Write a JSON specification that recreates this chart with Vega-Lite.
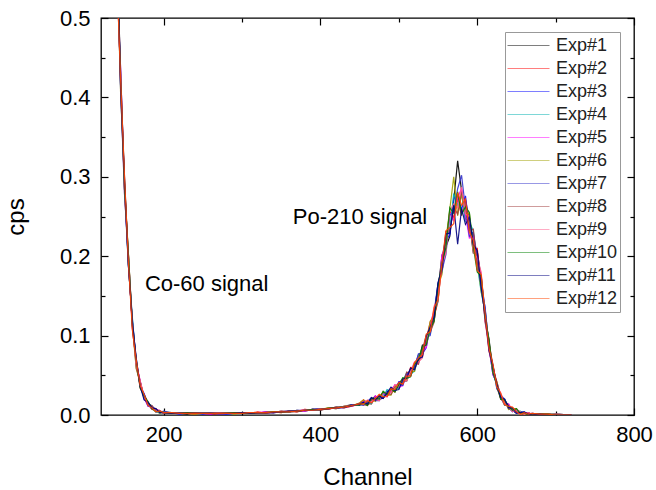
{
"$schema": "https://vega.github.io/schema/vega-lite/v6.json",
"width": 533, "height": 397,
"autosize": {"type": "none"},
"padding": {"left": 101, "top": 18, "right": 22, "bottom": 75},
"config": {"font": "Liberation Sans", "view": {"stroke": "black", "strokeWidth": 1.3},
  "axis": {"grid": false, "domain": false, "tickColor": "black", "tickWidth": 1.2, "labelColor": "black", "labelFontSize": 22, "titleFontSize": 24, "titleFontWeight": "normal", "titleColor": "black", "labelFlush": false}},
"datasets": {"spec": [
{"s":1,"c":130,"y":1.229},{"s":1,"c":135,"y":0.823},{"s":1,"c":140,"y":0.585},{"s":1,"c":145,"y":0.435},{"s":1,"c":150,"y":0.285},{"s":1,"c":155,"y":0.187},{"s":1,"c":160,"y":0.119},{"s":1,"c":165,"y":0.064},{"s":1,"c":170,"y":0.042},{"s":1,"c":175,"y":0.021},{"s":1,"c":180,"y":0.014},{"s":1,"c":185,"y":0.007},{"s":1,"c":190,"y":0.007},{"s":1,"c":195,"y":0.005},{"s":1,"c":200,"y":0.002},
{"s":1,"c":210,"y":0.003},{"s":1,"c":220,"y":0.002},{"s":1,"c":230,"y":0.001},{"s":1,"c":240,"y":0.003},{"s":1,"c":250,"y":0.002},{"s":1,"c":260,"y":0.001},{"s":1,"c":270,"y":0.002},{"s":1,"c":280,"y":0.003},{"s":1,"c":290,"y":0.002},{"s":1,"c":300,"y":0.002},{"s":1,"c":310,"y":0.003},{"s":1,"c":320,"y":0.002},{"s":1,"c":330,"y":0.004},{"s":1,"c":340,"y":0.003},{"s":1,"c":350,"y":0.005},{"s":1,"c":360,"y":0.004},{"s":1,"c":370,"y":0.006},{"s":1,"c":380,"y":0.005},{"s":1,"c":390,"y":0.007},{"s":1,"c":400,"y":0.006},{"s":1,"c":410,"y":0.009},{"s":1,"c":420,"y":0.008},{"s":1,"c":430,"y":0.011},{"s":1,"c":440,"y":0.013},{"s":1,"c":450,"y":0.012},
{"s":1,"c":455,"y":0.017},{"s":1,"c":460,"y":0.013},{"s":1,"c":465,"y":0.019},{"s":1,"c":470,"y":0.024},{"s":1,"c":475,"y":0.02},{"s":1,"c":480,"y":0.021},{"s":1,"c":485,"y":0.029},{"s":1,"c":490,"y":0.029},{"s":1,"c":495,"y":0.037},{"s":1,"c":500,"y":0.034},{"s":1,"c":505,"y":0.043},{"s":1,"c":510,"y":0.043},{"s":1,"c":515,"y":0.058},{"s":1,"c":520,"y":0.063},{"s":1,"c":525,"y":0.067},{"s":1,"c":530,"y":0.088},{"s":1,"c":535,"y":0.09},{"s":1,"c":540,"y":0.114},{"s":1,"c":545,"y":0.119},{"s":1,"c":550,"y":0.157},{"s":1,"c":555,"y":0.201},{"s":1,"c":560,"y":0.212},{"s":1,"c":565,"y":0.225},{"s":1,"c":570,"y":0.27},{"s":1,"c":575,"y":0.32},{"s":1,"c":580,"y":0.283},{"s":1,"c":585,"y":0.247},{"s":1,"c":590,"y":0.242},{"s":1,"c":595,"y":0.204},{"s":1,"c":600,"y":0.206},{"s":1,"c":605,"y":0.172},{"s":1,"c":610,"y":0.12},{"s":1,"c":615,"y":0.096},{"s":1,"c":620,"y":0.055},{"s":1,"c":625,"y":0.04},{"s":1,"c":630,"y":0.02},{"s":1,"c":635,"y":0.017},{"s":1,"c":640,"y":0.013},{"s":1,"c":645,"y":0.006},{"s":1,"c":650,"y":0.002},{"s":1,"c":655,"y":0.004},{"s":1,"c":660,"y":0.002},{"s":1,"c":665,"y":0.003},{"s":1,"c":670,"y":0},{"s":1,"c":680,"y":0.001},{"s":1,"c":690,"y":0},{"s":1,"c":700,"y":0.001},{"s":1,"c":720,"y":0},
{"s":2,"c":130,"y":1.243},{"s":2,"c":135,"y":0.836},{"s":2,"c":140,"y":0.557},{"s":2,"c":145,"y":0.429},{"s":2,"c":150,"y":0.288},{"s":2,"c":155,"y":0.201},{"s":2,"c":160,"y":0.11},{"s":2,"c":165,"y":0.066},{"s":2,"c":170,"y":0.034},{"s":2,"c":175,"y":0.026},{"s":2,"c":180,"y":0.015},{"s":2,"c":185,"y":0.008},{"s":2,"c":190,"y":0.008},{"s":2,"c":195,"y":0.003},{"s":2,"c":200,"y":0.004},
{"s":2,"c":210,"y":0.002},{"s":2,"c":220,"y":0.003},{"s":2,"c":230,"y":0.002},{"s":2,"c":240,"y":0.001},{"s":2,"c":250,"y":0.003},{"s":2,"c":260,"y":0.002},{"s":2,"c":270,"y":0.001},{"s":2,"c":280,"y":0.002},{"s":2,"c":290,"y":0.003},{"s":2,"c":300,"y":0.003},{"s":2,"c":310,"y":0.002},{"s":2,"c":320,"y":0.004},{"s":2,"c":330,"y":0.002},{"s":2,"c":340,"y":0.004},{"s":2,"c":350,"y":0.003},{"s":2,"c":360,"y":0.005},{"s":2,"c":370,"y":0.004},{"s":2,"c":380,"y":0.007},{"s":2,"c":390,"y":0.006},{"s":2,"c":400,"y":0.008},{"s":2,"c":410,"y":0.007},{"s":2,"c":420,"y":0.01},{"s":2,"c":430,"y":0.009},{"s":2,"c":440,"y":0.011},{"s":2,"c":450,"y":0.015},
{"s":2,"c":455,"y":0.019},{"s":2,"c":460,"y":0.014},{"s":2,"c":465,"y":0.014},{"s":2,"c":470,"y":0.022},{"s":2,"c":475,"y":0.021},{"s":2,"c":480,"y":0.029},{"s":2,"c":485,"y":0.024},{"s":2,"c":490,"y":0.031},{"s":2,"c":495,"y":0.029},{"s":2,"c":500,"y":0.041},{"s":2,"c":505,"y":0.044},{"s":2,"c":510,"y":0.045},{"s":2,"c":515,"y":0.06},{"s":2,"c":520,"y":0.059},{"s":2,"c":525,"y":0.074},{"s":2,"c":530,"y":0.074},{"s":2,"c":535,"y":0.095},{"s":2,"c":540,"y":0.117},{"s":2,"c":545,"y":0.124},{"s":2,"c":550,"y":0.143},{"s":2,"c":555,"y":0.195},{"s":2,"c":560,"y":0.215},{"s":2,"c":565,"y":0.257},{"s":2,"c":570,"y":0.249},{"s":2,"c":575,"y":0.272},{"s":2,"c":580,"y":0.251},{"s":2,"c":585,"y":0.271},{"s":2,"c":590,"y":0.245},{"s":2,"c":595,"y":0.21},{"s":2,"c":600,"y":0.21},{"s":2,"c":605,"y":0.164},{"s":2,"c":610,"y":0.131},{"s":2,"c":615,"y":0.082},{"s":2,"c":620,"y":0.058},{"s":2,"c":625,"y":0.042},{"s":2,"c":630,"y":0.022},{"s":2,"c":635,"y":0.012},{"s":2,"c":640,"y":0.012},{"s":2,"c":645,"y":0.006},{"s":2,"c":650,"y":0.007},{"s":2,"c":655,"y":0.002},{"s":2,"c":660,"y":0.002},{"s":2,"c":665,"y":0},{"s":2,"c":670,"y":0.002},{"s":2,"c":680,"y":0.001},{"s":2,"c":690,"y":0.001},{"s":2,"c":700,"y":0},{"s":2,"c":720,"y":0},
{"s":3,"c":130,"y":1.224},{"s":3,"c":135,"y":0.843},{"s":3,"c":140,"y":0.598},{"s":3,"c":145,"y":0.41},{"s":3,"c":150,"y":0.291},{"s":3,"c":155,"y":0.188},{"s":3,"c":160,"y":0.121},{"s":3,"c":165,"y":0.067},{"s":3,"c":170,"y":0.036},{"s":3,"c":175,"y":0.027},{"s":3,"c":180,"y":0.013},{"s":3,"c":185,"y":0.011},{"s":3,"c":190,"y":0.004},{"s":3,"c":195,"y":0.004},{"s":3,"c":200,"y":0.004},
{"s":3,"c":210,"y":0.003},{"s":3,"c":220,"y":0.001},{"s":3,"c":230,"y":0.003},{"s":3,"c":240,"y":0.002},{"s":3,"c":250,"y":0.001},{"s":3,"c":260,"y":0.003},{"s":3,"c":270,"y":0.002},{"s":3,"c":280,"y":0.001},{"s":3,"c":290,"y":0.002},{"s":3,"c":300,"y":0.003},{"s":3,"c":310,"y":0.002},{"s":3,"c":320,"y":0.003},{"s":3,"c":330,"y":0.003},{"s":3,"c":340,"y":0.004},{"s":3,"c":350,"y":0.004},{"s":3,"c":360,"y":0.004},{"s":3,"c":370,"y":0.005},{"s":3,"c":380,"y":0.006},{"s":3,"c":390,"y":0.007},{"s":3,"c":400,"y":0.008},{"s":3,"c":410,"y":0.008},{"s":3,"c":420,"y":0.009},{"s":3,"c":430,"y":0.01},{"s":3,"c":440,"y":0.012},{"s":3,"c":450,"y":0.014},
{"s":3,"c":455,"y":0.017},{"s":3,"c":460,"y":0.015},{"s":3,"c":465,"y":0.021},{"s":3,"c":470,"y":0.018},{"s":3,"c":475,"y":0.022},{"s":3,"c":480,"y":0.021},{"s":3,"c":485,"y":0.03},{"s":3,"c":490,"y":0.032},{"s":3,"c":495,"y":0.031},{"s":3,"c":500,"y":0.042},{"s":3,"c":505,"y":0.04},{"s":3,"c":510,"y":0.052},{"s":3,"c":515,"y":0.049},{"s":3,"c":520,"y":0.062},{"s":3,"c":525,"y":0.076},{"s":3,"c":530,"y":0.077},{"s":3,"c":535,"y":0.085},{"s":3,"c":540,"y":0.113},{"s":3,"c":545,"y":0.126},{"s":3,"c":550,"y":0.165},{"s":3,"c":555,"y":0.18},{"s":3,"c":560,"y":0.22},{"s":3,"c":565,"y":0.227},{"s":3,"c":570,"y":0.273},{"s":3,"c":575,"y":0.276},{"s":3,"c":580,"y":0.259},{"s":3,"c":585,"y":0.276},{"s":3,"c":590,"y":0.235},{"s":3,"c":595,"y":0.228},{"s":3,"c":600,"y":0.183},{"s":3,"c":605,"y":0.171},{"s":3,"c":610,"y":0.134},{"s":3,"c":615,"y":0.085},{"s":3,"c":620,"y":0.051},{"s":3,"c":625,"y":0.04},{"s":3,"c":630,"y":0.023},{"s":3,"c":635,"y":0.019},{"s":3,"c":640,"y":0.008},{"s":3,"c":645,"y":0.007},{"s":3,"c":650,"y":0.002},{"s":3,"c":655,"y":0.004},{"s":3,"c":660,"y":0.003},{"s":3,"c":665,"y":0.001},{"s":3,"c":670,"y":0.002},{"s":3,"c":680,"y":0.001},{"s":3,"c":690,"y":0.001},{"s":3,"c":700,"y":0.001},{"s":3,"c":720,"y":0},
{"s":4,"c":130,"y":1.171},{"s":4,"c":135,"y":0.853},{"s":4,"c":140,"y":0.559},{"s":4,"c":145,"y":0.432},{"s":4,"c":150,"y":0.294},{"s":4,"c":155,"y":0.191},{"s":4,"c":160,"y":0.123},{"s":4,"c":165,"y":0.063},{"s":4,"c":170,"y":0.041},{"s":4,"c":175,"y":0.02},{"s":4,"c":180,"y":0.015},{"s":4,"c":185,"y":0.011},{"s":4,"c":190,"y":0.005},{"s":4,"c":195,"y":0.002},{"s":4,"c":200,"y":0.004},
{"s":4,"c":210,"y":0.002},{"s":4,"c":220,"y":0.002},{"s":4,"c":230,"y":0.002},{"s":4,"c":240,"y":0.002},{"s":4,"c":250,"y":0.003},{"s":4,"c":260,"y":0.002},{"s":4,"c":270,"y":0.002},{"s":4,"c":280,"y":0.002},{"s":4,"c":290,"y":0.002},{"s":4,"c":300,"y":0.002},{"s":4,"c":310,"y":0.003},{"s":4,"c":320,"y":0.003},{"s":4,"c":330,"y":0.003},{"s":4,"c":340,"y":0.003},{"s":4,"c":350,"y":0.004},{"s":4,"c":360,"y":0.005},{"s":4,"c":370,"y":0.005},{"s":4,"c":380,"y":0.006},{"s":4,"c":390,"y":0.006},{"s":4,"c":400,"y":0.007},{"s":4,"c":410,"y":0.008},{"s":4,"c":420,"y":0.009},{"s":4,"c":430,"y":0.01},{"s":4,"c":440,"y":0.012},{"s":4,"c":450,"y":0.013},
{"s":4,"c":455,"y":0.013},{"s":4,"c":460,"y":0.016},{"s":4,"c":465,"y":0.014},{"s":4,"c":470,"y":0.023},{"s":4,"c":475,"y":0.023},{"s":4,"c":480,"y":0.023},{"s":4,"c":485,"y":0.032},{"s":4,"c":490,"y":0.029},{"s":4,"c":495,"y":0.036},{"s":4,"c":500,"y":0.033},{"s":4,"c":505,"y":0.043},{"s":4,"c":510,"y":0.053},{"s":4,"c":515,"y":0.052},{"s":4,"c":520,"y":0.055},{"s":4,"c":525,"y":0.074},{"s":4,"c":530,"y":0.078},{"s":4,"c":535,"y":0.1},{"s":4,"c":540,"y":0.102},{"s":4,"c":545,"y":0.129},{"s":4,"c":550,"y":0.144},{"s":4,"c":555,"y":0.198},{"s":4,"c":560,"y":0.223},{"s":4,"c":565,"y":0.234},{"s":4,"c":570,"y":0.279},{"s":4,"c":575,"y":0.264},{"s":4,"c":580,"y":0.279},{"s":4,"c":585,"y":0.244},{"s":4,"c":590,"y":0.243},{"s":4,"c":595,"y":0.232},{"s":4,"c":600,"y":0.189},{"s":4,"c":605,"y":0.155},{"s":4,"c":610,"y":0.13},{"s":4,"c":615,"y":0.086},{"s":4,"c":620,"y":0.062},{"s":4,"c":625,"y":0.034},{"s":4,"c":630,"y":0.024},{"s":4,"c":635,"y":0.012},{"s":4,"c":640,"y":0.012},{"s":4,"c":645,"y":0.008},{"s":4,"c":650,"y":0.004},{"s":4,"c":655,"y":0.005},{"s":4,"c":660,"y":0.001},{"s":4,"c":665,"y":0.002},{"s":4,"c":670,"y":0},{"s":4,"c":680,"y":0.001},{"s":4,"c":690,"y":0},{"s":4,"c":700,"y":0},{"s":4,"c":720,"y":0},
{"s":5,"c":130,"y":1.234},{"s":5,"c":135,"y":0.86},{"s":5,"c":140,"y":0.569},{"s":5,"c":145,"y":0.437},{"s":5,"c":150,"y":0.286},{"s":5,"c":155,"y":0.2},{"s":5,"c":160,"y":0.109},{"s":5,"c":165,"y":0.066},{"s":5,"c":170,"y":0.043},{"s":5,"c":175,"y":0.021},{"s":5,"c":180,"y":0.011},{"s":5,"c":185,"y":0.01},{"s":5,"c":190,"y":0.006},{"s":5,"c":195,"y":0.006},{"s":5,"c":200,"y":0.002},
{"s":5,"c":210,"y":0.002},{"s":5,"c":220,"y":0.002},{"s":5,"c":230,"y":0.003},{"s":5,"c":240,"y":0.002},{"s":5,"c":250,"y":0.002},{"s":5,"c":260,"y":0.001},{"s":5,"c":270,"y":0.003},{"s":5,"c":280,"y":0.002},{"s":5,"c":290,"y":0.002},{"s":5,"c":300,"y":0.002},{"s":5,"c":310,"y":0.002},{"s":5,"c":320,"y":0.003},{"s":5,"c":330,"y":0.004},{"s":5,"c":340,"y":0.003},{"s":5,"c":350,"y":0.004},{"s":5,"c":360,"y":0.005},{"s":5,"c":370,"y":0.005},{"s":5,"c":380,"y":0.005},{"s":5,"c":390,"y":0.007},{"s":5,"c":400,"y":0.007},{"s":5,"c":410,"y":0.008},{"s":5,"c":420,"y":0.01},{"s":5,"c":430,"y":0.01},{"s":5,"c":440,"y":0.011},{"s":5,"c":450,"y":0.014},
{"s":5,"c":455,"y":0.018},{"s":5,"c":460,"y":0.017},{"s":5,"c":465,"y":0.016},{"s":5,"c":470,"y":0.024},{"s":5,"c":475,"y":0.021},{"s":5,"c":480,"y":0.028},{"s":5,"c":485,"y":0.023},{"s":5,"c":490,"y":0.031},{"s":5,"c":495,"y":0.038},{"s":5,"c":500,"y":0.035},{"s":5,"c":505,"y":0.037},{"s":5,"c":510,"y":0.051},{"s":5,"c":515,"y":0.053},{"s":5,"c":520,"y":0.066},{"s":5,"c":525,"y":0.066},{"s":5,"c":530,"y":0.081},{"s":5,"c":535,"y":0.085},{"s":5,"c":540,"y":0.115},{"s":5,"c":545,"y":0.131},{"s":5,"c":550,"y":0.149},{"s":5,"c":555,"y":0.202},{"s":5,"c":560,"y":0.213},{"s":5,"c":565,"y":0.254},{"s":5,"c":570,"y":0.245},{"s":5,"c":575,"y":0.274},{"s":5,"c":580,"y":0.285},{"s":5,"c":585,"y":0.251},{"s":5,"c":590,"y":0.223},{"s":5,"c":595,"y":0.226},{"s":5,"c":600,"y":0.192},{"s":5,"c":605,"y":0.178},{"s":5,"c":610,"y":0.119},{"s":5,"c":615,"y":0.089},{"s":5,"c":620,"y":0.051},{"s":5,"c":625,"y":0.041},{"s":5,"c":630,"y":0.025},{"s":5,"c":635,"y":0.014},{"s":5,"c":640,"y":0.014},{"s":5,"c":645,"y":0.006},{"s":5,"c":650,"y":0.007},{"s":5,"c":655,"y":0.001},{"s":5,"c":660,"y":0.002},{"s":5,"c":665,"y":0.003},{"s":5,"c":670,"y":0.001},{"s":5,"c":680,"y":0.001},{"s":5,"c":690,"y":0.001},{"s":5,"c":700,"y":0},{"s":5,"c":720,"y":0},
{"s":6,"c":130,"y":1.248},{"s":6,"c":135,"y":0.84},{"s":6,"c":140,"y":0.594},{"s":6,"c":145,"y":0.406},{"s":6,"c":150,"y":0.292},{"s":6,"c":155,"y":0.202},{"s":6,"c":160,"y":0.112},{"s":6,"c":165,"y":0.058},{"s":6,"c":170,"y":0.041},{"s":6,"c":175,"y":0.022},{"s":6,"c":180,"y":0.016},{"s":6,"c":185,"y":0.008},{"s":6,"c":190,"y":0.006},{"s":6,"c":195,"y":0.002},{"s":6,"c":200,"y":0.004},
{"s":6,"c":210,"y":0.003},{"s":6,"c":220,"y":0.002},{"s":6,"c":230,"y":0.002},{"s":6,"c":240,"y":0.001},{"s":6,"c":250,"y":0.002},{"s":6,"c":260,"y":0.002},{"s":6,"c":270,"y":0.002},{"s":6,"c":280,"y":0.003},{"s":6,"c":290,"y":0.001},{"s":6,"c":300,"y":0.003},{"s":6,"c":310,"y":0.002},{"s":6,"c":320,"y":0.003},{"s":6,"c":330,"y":0.003},{"s":6,"c":340,"y":0.004},{"s":6,"c":350,"y":0.003},{"s":6,"c":360,"y":0.005},{"s":6,"c":370,"y":0.005},{"s":6,"c":380,"y":0.006},{"s":6,"c":390,"y":0.006},{"s":6,"c":400,"y":0.007},{"s":6,"c":410,"y":0.009},{"s":6,"c":420,"y":0.008},{"s":6,"c":430,"y":0.011},{"s":6,"c":440,"y":0.012},{"s":6,"c":450,"y":0.015},
{"s":6,"c":455,"y":0.019},{"s":6,"c":460,"y":0.015},{"s":6,"c":465,"y":0.02},{"s":6,"c":470,"y":0.017},{"s":6,"c":475,"y":0.023},{"s":6,"c":480,"y":0.029},{"s":6,"c":485,"y":0.025},{"s":6,"c":490,"y":0.025},{"s":6,"c":495,"y":0.036},{"s":6,"c":500,"y":0.036},{"s":6,"c":505,"y":0.046},{"s":6,"c":510,"y":0.044},{"s":6,"c":515,"y":0.055},{"s":6,"c":520,"y":0.055},{"s":6,"c":525,"y":0.075},{"s":6,"c":530,"y":0.082},{"s":6,"c":535,"y":0.089},{"s":6,"c":540,"y":0.118},{"s":6,"c":545,"y":0.125},{"s":6,"c":550,"y":0.162},{"s":6,"c":555,"y":0.177},{"s":6,"c":560,"y":0.221},{"s":6,"c":565,"y":0.259},{"s":6,"c":570,"y":0.3},{"s":6,"c":575,"y":0.251},{"s":6,"c":580,"y":0.278},{"s":6,"c":585,"y":0.254},{"s":6,"c":590,"y":0.254},{"s":6,"c":595,"y":0.208},{"s":6,"c":600,"y":0.197},{"s":6,"c":605,"y":0.156},{"s":6,"c":610,"y":0.132},{"s":6,"c":615,"y":0.09},{"s":6,"c":620,"y":0.054},{"s":6,"c":625,"y":0.042},{"s":6,"c":630,"y":0.023},{"s":6,"c":635,"y":0.018},{"s":6,"c":640,"y":0.007},{"s":6,"c":645,"y":0.008},{"s":6,"c":650,"y":0.008},{"s":6,"c":655,"y":0.002},{"s":6,"c":660,"y":0},{"s":6,"c":665,"y":0.002},{"s":6,"c":670,"y":0.001},{"s":6,"c":680,"y":0.001},{"s":6,"c":690,"y":0.001},{"s":6,"c":700,"y":0.001},{"s":6,"c":720,"y":0},
{"s":7,"c":130,"y":1.162},{"s":7,"c":135,"y":0.857},{"s":7,"c":140,"y":0.601},{"s":7,"c":145,"y":0.413},{"s":7,"c":150,"y":0.278},{"s":7,"c":155,"y":0.199},{"s":7,"c":160,"y":0.113},{"s":7,"c":165,"y":0.071},{"s":7,"c":170,"y":0.035},{"s":7,"c":175,"y":0.023},{"s":7,"c":180,"y":0.011},{"s":7,"c":185,"y":0.011},{"s":7,"c":190,"y":0.007},{"s":7,"c":195,"y":0.003},{"s":7,"c":200,"y":0.005},
{"s":7,"c":210,"y":0.002},{"s":7,"c":220,"y":0.003},{"s":7,"c":230,"y":0.002},{"s":7,"c":240,"y":0.002},{"s":7,"c":250,"y":0.002},{"s":7,"c":260,"y":0.003},{"s":7,"c":270,"y":0.001},{"s":7,"c":280,"y":0.002},{"s":7,"c":290,"y":0.002},{"s":7,"c":300,"y":0.002},{"s":7,"c":310,"y":0.003},{"s":7,"c":320,"y":0.002},{"s":7,"c":330,"y":0.003},{"s":7,"c":340,"y":0.003},{"s":7,"c":350,"y":0.004},{"s":7,"c":360,"y":0.004},{"s":7,"c":370,"y":0.006},{"s":7,"c":380,"y":0.006},{"s":7,"c":390,"y":0.007},{"s":7,"c":400,"y":0.007},{"s":7,"c":410,"y":0.008},{"s":7,"c":420,"y":0.009},{"s":7,"c":430,"y":0.009},{"s":7,"c":440,"y":0.013},{"s":7,"c":450,"y":0.013},
{"s":7,"c":455,"y":0.012},{"s":7,"c":460,"y":0.017},{"s":7,"c":465,"y":0.022},{"s":7,"c":470,"y":0.018},{"s":7,"c":475,"y":0.018},{"s":7,"c":480,"y":0.027},{"s":7,"c":485,"y":0.026},{"s":7,"c":490,"y":0.034},{"s":7,"c":495,"y":0.03},{"s":7,"c":500,"y":0.038},{"s":7,"c":505,"y":0.037},{"s":7,"c":510,"y":0.052},{"s":7,"c":515,"y":0.056},{"s":7,"c":520,"y":0.058},{"s":7,"c":525,"y":0.077},{"s":7,"c":530,"y":0.078},{"s":7,"c":535,"y":0.098},{"s":7,"c":540,"y":0.1},{"s":7,"c":545,"y":0.13},{"s":7,"c":550,"y":0.166},{"s":7,"c":555,"y":0.182},{"s":7,"c":560,"y":0.202},{"s":7,"c":565,"y":0.252},{"s":7,"c":570,"y":0.256},{"s":7,"c":575,"y":0.285},{"s":7,"c":580,"y":0.302},{"s":7,"c":585,"y":0.26},{"s":7,"c":590,"y":0.225},{"s":7,"c":595,"y":0.229},{"s":7,"c":600,"y":0.2},{"s":7,"c":605,"y":0.162},{"s":7,"c":610,"y":0.136},{"s":7,"c":615,"y":0.086},{"s":7,"c":620,"y":0.061},{"s":7,"c":625,"y":0.033},{"s":7,"c":630,"y":0.025},{"s":7,"c":635,"y":0.02},{"s":7,"c":640,"y":0.009},{"s":7,"c":645,"y":0.004},{"s":7,"c":650,"y":0.007},{"s":7,"c":655,"y":0.003},{"s":7,"c":660,"y":0.004},{"s":7,"c":665,"y":0.001},{"s":7,"c":670,"y":0.001},{"s":7,"c":680,"y":0.001},{"s":7,"c":690,"y":0},{"s":7,"c":700,"y":0},{"s":7,"c":720,"y":0},
{"s":8,"c":130,"y":1.181},{"s":8,"c":135,"y":0.816},{"s":8,"c":140,"y":0.592},{"s":8,"c":145,"y":0.417},{"s":8,"c":150,"y":0.3},{"s":8,"c":155,"y":0.19},{"s":8,"c":160,"y":0.116},{"s":8,"c":165,"y":0.059},{"s":8,"c":170,"y":0.042},{"s":8,"c":175,"y":0.024},{"s":8,"c":180,"y":0.013},{"s":8,"c":185,"y":0.012},{"s":8,"c":190,"y":0.005},{"s":8,"c":195,"y":0.005},{"s":8,"c":200,"y":0.002},
{"s":8,"c":210,"y":0.002},{"s":8,"c":220,"y":0.002},{"s":8,"c":230,"y":0.002},{"s":8,"c":240,"y":0.003},{"s":8,"c":250,"y":0.002},{"s":8,"c":260,"y":0.002},{"s":8,"c":270,"y":0.002},{"s":8,"c":280,"y":0.002},{"s":8,"c":290,"y":0.002},{"s":8,"c":300,"y":0.003},{"s":8,"c":310,"y":0.002},{"s":8,"c":320,"y":0.003},{"s":8,"c":330,"y":0.002},{"s":8,"c":340,"y":0.004},{"s":8,"c":350,"y":0.004},{"s":8,"c":360,"y":0.005},{"s":8,"c":370,"y":0.004},{"s":8,"c":380,"y":0.006},{"s":8,"c":390,"y":0.007},{"s":8,"c":400,"y":0.006},{"s":8,"c":410,"y":0.008},{"s":8,"c":420,"y":0.009},{"s":8,"c":430,"y":0.01},{"s":8,"c":440,"y":0.011},{"s":8,"c":450,"y":0.014},
{"s":8,"c":455,"y":0.013},{"s":8,"c":460,"y":0.012},{"s":8,"c":465,"y":0.02},{"s":8,"c":470,"y":0.019},{"s":8,"c":475,"y":0.025},{"s":8,"c":480,"y":0.022},{"s":8,"c":485,"y":0.027},{"s":8,"c":490,"y":0.026},{"s":8,"c":495,"y":0.037},{"s":8,"c":500,"y":0.039},{"s":8,"c":505,"y":0.039},{"s":8,"c":510,"y":0.054},{"s":8,"c":515,"y":0.052},{"s":8,"c":520,"y":0.065},{"s":8,"c":525,"y":0.064},{"s":8,"c":530,"y":0.082},{"s":8,"c":535,"y":0.101},{"s":8,"c":540,"y":0.104},{"s":8,"c":545,"y":0.117},{"s":8,"c":550,"y":0.161},{"s":8,"c":555,"y":0.185},{"s":8,"c":560,"y":0.231},{"s":8,"c":565,"y":0.232},{"s":8,"c":570,"y":0.262},{"s":8,"c":575,"y":0.253},{"s":8,"c":580,"y":0.281},{"s":8,"c":585,"y":0.263},{"s":8,"c":590,"y":0.232},{"s":8,"c":595,"y":0.234},{"s":8,"c":600,"y":0.191},{"s":8,"c":605,"y":0.176},{"s":8,"c":610,"y":0.117},{"s":8,"c":615,"y":0.09},{"s":8,"c":620,"y":0.063},{"s":8,"c":625,"y":0.035},{"s":8,"c":630,"y":0.02},{"s":8,"c":635,"y":0.018},{"s":8,"c":640,"y":0.009},{"s":8,"c":645,"y":0.009},{"s":8,"c":650,"y":0.003},{"s":8,"c":655,"y":0.003},{"s":8,"c":660,"y":0},{"s":8,"c":665,"y":0.003},{"s":8,"c":670,"y":0.001},{"s":8,"c":680,"y":0.001},{"s":8,"c":690,"y":0.001},{"s":8,"c":700,"y":0},{"s":8,"c":720,"y":0},
{"s":9,"c":130,"y":1.19},{"s":9,"c":135,"y":0.877},{"s":9,"c":140,"y":0.566},{"s":9,"c":145,"y":0.422},{"s":9,"c":150,"y":0.279},{"s":9,"c":155,"y":0.201},{"s":9,"c":160,"y":0.117},{"s":9,"c":165,"y":0.062},{"s":9,"c":170,"y":0.043},{"s":9,"c":175,"y":0.022},{"s":9,"c":180,"y":0.016},{"s":9,"c":185,"y":0.007},{"s":9,"c":190,"y":0.006},{"s":9,"c":195,"y":0.006},{"s":9,"c":200,"y":0.002},
{"s":9,"c":210,"y":0.003},{"s":9,"c":220,"y":0.002},{"s":9,"c":230,"y":0.002},{"s":9,"c":240,"y":0.002},{"s":9,"c":250,"y":0.002},{"s":9,"c":260,"y":0.002},{"s":9,"c":270,"y":0.003},{"s":9,"c":280,"y":0.002},{"s":9,"c":290,"y":0.002},{"s":9,"c":300,"y":0.002},{"s":9,"c":310,"y":0.003},{"s":9,"c":320,"y":0.003},{"s":9,"c":330,"y":0.003},{"s":9,"c":340,"y":0.003},{"s":9,"c":350,"y":0.005},{"s":9,"c":360,"y":0.004},{"s":9,"c":370,"y":0.005},{"s":9,"c":380,"y":0.007},{"s":9,"c":390,"y":0.006},{"s":9,"c":400,"y":0.008},{"s":9,"c":410,"y":0.008},{"s":9,"c":420,"y":0.009},{"s":9,"c":430,"y":0.011},{"s":9,"c":440,"y":0.012},{"s":9,"c":450,"y":0.014},
{"s":9,"c":455,"y":0.014},{"s":9,"c":460,"y":0.019},{"s":9,"c":465,"y":0.016},{"s":9,"c":470,"y":0.02},{"s":9,"c":475,"y":0.018},{"s":9,"c":480,"y":0.028},{"s":9,"c":485,"y":0.028},{"s":9,"c":490,"y":0.028},{"s":9,"c":495,"y":0.038},{"s":9,"c":500,"y":0.036},{"s":9,"c":505,"y":0.045},{"s":9,"c":510,"y":0.043},{"s":9,"c":515,"y":0.055},{"s":9,"c":520,"y":0.067},{"s":9,"c":525,"y":0.067},{"s":9,"c":530,"y":0.072},{"s":9,"c":535,"y":0.097},{"s":9,"c":540,"y":0.106},{"s":9,"c":545,"y":0.137},{"s":9,"c":550,"y":0.148},{"s":9,"c":555,"y":0.189},{"s":9,"c":560,"y":0.204},{"s":9,"c":565,"y":0.256},{"s":9,"c":570,"y":0.266},{"s":9,"c":575,"y":0.261},{"s":9,"c":580,"y":0.287},{"s":9,"c":585,"y":0.253},{"s":9,"c":590,"y":0.25},{"s":9,"c":595,"y":0.205},{"s":9,"c":600,"y":0.198},{"s":9,"c":605,"y":0.18},{"s":9,"c":610,"y":0.121},{"s":9,"c":615,"y":0.08},{"s":9,"c":620,"y":0.06},{"s":9,"c":625,"y":0.036},{"s":9,"c":630,"y":0.028},{"s":9,"c":635,"y":0.014},{"s":9,"c":640,"y":0.01},{"s":9,"c":645,"y":0.004},{"s":9,"c":650,"y":0.007},{"s":9,"c":655,"y":0.004},{"s":9,"c":660,"y":0.001},{"s":9,"c":665,"y":0.003},{"s":9,"c":670,"y":0.001},{"s":9,"c":680,"y":0.001},{"s":9,"c":690,"y":0},{"s":9,"c":700,"y":0.001},{"s":9,"c":720,"y":0},
{"s":10,"c":130,"y":1.205},{"s":10,"c":135,"y":0.819},{"s":10,"c":140,"y":0.596},{"s":10,"c":145,"y":0.425},{"s":10,"c":150,"y":0.284},{"s":10,"c":155,"y":0.203},{"s":10,"c":160,"y":0.113},{"s":10,"c":165,"y":0.069},{"s":10,"c":170,"y":0.034},{"s":10,"c":175,"y":0.024},{"s":10,"c":180,"y":0.017},{"s":10,"c":185,"y":0.008},{"s":10,"c":190,"y":0.004},{"s":10,"c":195,"y":0.005},{"s":10,"c":200,"y":0.003},
{"s":10,"c":210,"y":0.002},{"s":10,"c":220,"y":0.002},{"s":10,"c":230,"y":0.003},{"s":10,"c":240,"y":0.002},{"s":10,"c":250,"y":0.002},{"s":10,"c":260,"y":0.002},{"s":10,"c":270,"y":0.002},{"s":10,"c":280,"y":0.002},{"s":10,"c":290,"y":0.003},{"s":10,"c":300,"y":0.002},{"s":10,"c":310,"y":0.002},{"s":10,"c":320,"y":0.003},{"s":10,"c":330,"y":0.003},{"s":10,"c":340,"y":0.004},{"s":10,"c":350,"y":0.004},{"s":10,"c":360,"y":0.004},{"s":10,"c":370,"y":0.005},{"s":10,"c":380,"y":0.006},{"s":10,"c":390,"y":0.007},{"s":10,"c":400,"y":0.007},{"s":10,"c":410,"y":0.008},{"s":10,"c":420,"y":0.01},{"s":10,"c":430,"y":0.01},{"s":10,"c":440,"y":0.012},{"s":10,"c":450,"y":0.013},
{"s":10,"c":455,"y":0.015},{"s":10,"c":460,"y":0.012},{"s":10,"c":465,"y":0.021},{"s":10,"c":470,"y":0.021},{"s":10,"c":475,"y":0.02},{"s":10,"c":480,"y":0.03},{"s":10,"c":485,"y":0.026},{"s":10,"c":490,"y":0.033},{"s":10,"c":495,"y":0.029},{"s":10,"c":500,"y":0.038},{"s":10,"c":505,"y":0.047},{"s":10,"c":510,"y":0.046},{"s":10,"c":515,"y":0.048},{"s":10,"c":520,"y":0.064},{"s":10,"c":525,"y":0.069},{"s":10,"c":530,"y":0.086},{"s":10,"c":535,"y":0.088},{"s":10,"c":540,"y":0.109},{"s":10,"c":545,"y":0.118},{"s":10,"c":550,"y":0.163},{"s":10,"c":555,"y":0.192},{"s":10,"c":560,"y":0.21},{"s":10,"c":565,"y":0.261},{"s":10,"c":570,"y":0.254},{"s":10,"c":575,"y":0.281},{"s":10,"c":580,"y":0.253},{"s":10,"c":585,"y":0.262},{"s":10,"c":590,"y":0.255},{"s":10,"c":595,"y":0.212},{"s":10,"c":600,"y":0.18},{"s":10,"c":605,"y":0.175},{"s":10,"c":610,"y":0.123},{"s":10,"c":615,"y":0.094},{"s":10,"c":620,"y":0.053},{"s":10,"c":625,"y":0.038},{"s":10,"c":630,"y":0.02},{"s":10,"c":635,"y":0.019},{"s":10,"c":640,"y":0.011},{"s":10,"c":645,"y":0.006},{"s":10,"c":650,"y":0.008},{"s":10,"c":655,"y":0.002},{"s":10,"c":660,"y":0.003},{"s":10,"c":665,"y":0},{"s":10,"c":670,"y":0.001},{"s":10,"c":680,"y":0.001},{"s":10,"c":690,"y":0.001},{"s":10,"c":700,"y":0},{"s":10,"c":720,"y":0},
{"s":11,"c":130,"y":1.214},{"s":11,"c":135,"y":0.833},{"s":11,"c":140,"y":0.603},{"s":11,"c":145,"y":0.415},{"s":11,"c":150,"y":0.297},{"s":11,"c":155,"y":0.189},{"s":11,"c":160,"y":0.117},{"s":11,"c":165,"y":0.071},{"s":11,"c":170,"y":0.036},{"s":11,"c":175,"y":0.019},{"s":11,"c":180,"y":0.016},{"s":11,"c":185,"y":0.009},{"s":11,"c":190,"y":0.008},{"s":11,"c":195,"y":0.003},{"s":11,"c":200,"y":0.003},
{"s":11,"c":210,"y":0.002},{"s":11,"c":220,"y":0.002},{"s":11,"c":230,"y":0.002},{"s":11,"c":240,"y":0.002},{"s":11,"c":250,"y":0.002},{"s":11,"c":260,"y":0.002},{"s":11,"c":270,"y":0.002},{"s":11,"c":280,"y":0.002},{"s":11,"c":290,"y":0.002},{"s":11,"c":300,"y":0.003},{"s":11,"c":310,"y":0.002},{"s":11,"c":320,"y":0.003},{"s":11,"c":330,"y":0.003},{"s":11,"c":340,"y":0.003},{"s":11,"c":350,"y":0.004},{"s":11,"c":360,"y":0.005},{"s":11,"c":370,"y":0.005},{"s":11,"c":380,"y":0.006},{"s":11,"c":390,"y":0.006},{"s":11,"c":400,"y":0.007},{"s":11,"c":410,"y":0.008},{"s":11,"c":420,"y":0.009},{"s":11,"c":430,"y":0.01},{"s":11,"c":440,"y":0.012},{"s":11,"c":450,"y":0.014},
{"s":11,"c":455,"y":0.016},{"s":11,"c":460,"y":0.014},{"s":11,"c":465,"y":0.022},{"s":11,"c":470,"y":0.019},{"s":11,"c":475,"y":0.024},{"s":11,"c":480,"y":0.021},{"s":11,"c":485,"y":0.028},{"s":11,"c":490,"y":0.035},{"s":11,"c":495,"y":0.031},{"s":11,"c":500,"y":0.032},{"s":11,"c":505,"y":0.045},{"s":11,"c":510,"y":0.047},{"s":11,"c":515,"y":0.059},{"s":11,"c":520,"y":0.057},{"s":11,"c":525,"y":0.071},{"s":11,"c":530,"y":0.073},{"s":11,"c":535,"y":0.099},{"s":11,"c":540,"y":0.111},{"s":11,"c":545,"y":0.123},{"s":11,"c":550,"y":0.167},{"s":11,"c":555,"y":0.184},{"s":11,"c":560,"y":0.228},{"s":11,"c":565,"y":0.229},{"s":11,"c":570,"y":0.264},{"s":11,"c":575,"y":0.215},{"s":11,"c":580,"y":0.26},{"s":11,"c":585,"y":0.24},{"s":11,"c":590,"y":0.249},{"s":11,"c":595,"y":0.215},{"s":11,"c":600,"y":0.207},{"s":11,"c":605,"y":0.16},{"s":11,"c":610,"y":0.126},{"s":11,"c":615,"y":0.081},{"s":11,"c":620,"y":0.062},{"s":11,"c":625,"y":0.039},{"s":11,"c":630,"y":0.022},{"s":11,"c":635,"y":0.02},{"s":11,"c":640,"y":0.009},{"s":11,"c":645,"y":0.009},{"s":11,"c":650,"y":0.003},{"s":11,"c":655,"y":0.003},{"s":11,"c":660,"y":0.004},{"s":11,"c":665,"y":0.001},{"s":11,"c":670,"y":0},{"s":11,"c":680,"y":0.001},{"s":11,"c":690,"y":0},{"s":11,"c":700,"y":0},{"s":11,"c":720,"y":0},
{"s":12,"c":130,"y":1.186},{"s":12,"c":135,"y":0.87},{"s":12,"c":140,"y":0.562},{"s":12,"c":145,"y":0.423},{"s":12,"c":150,"y":0.301},{"s":12,"c":155,"y":0.192},{"s":12,"c":160,"y":0.107},{"s":12,"c":165,"y":0.069},{"s":12,"c":170,"y":0.037},{"s":12,"c":175,"y":0.026},{"s":12,"c":180,"y":0.012},{"s":12,"c":185,"y":0.009},{"s":12,"c":190,"y":0.004},{"s":12,"c":195,"y":0.005},{"s":12,"c":200,"y":0.003},
{"s":12,"c":210,"y":0.003},{"s":12,"c":220,"y":0.002},{"s":12,"c":230,"y":0.002},{"s":12,"c":240,"y":0.002},{"s":12,"c":250,"y":0.002},{"s":12,"c":260,"y":0.002},{"s":12,"c":270,"y":0.002},{"s":12,"c":280,"y":0.002},{"s":12,"c":290,"y":0.002},{"s":12,"c":300,"y":0.002},{"s":12,"c":310,"y":0.003},{"s":12,"c":320,"y":0.003},{"s":12,"c":330,"y":0.003},{"s":12,"c":340,"y":0.004},{"s":12,"c":350,"y":0.004},{"s":12,"c":360,"y":0.004},{"s":12,"c":370,"y":0.005},{"s":12,"c":380,"y":0.006},{"s":12,"c":390,"y":0.006},{"s":12,"c":400,"y":0.007},{"s":12,"c":410,"y":0.008},{"s":12,"c":420,"y":0.009},{"s":12,"c":430,"y":0.01},{"s":12,"c":440,"y":0.012},{"s":12,"c":450,"y":0.014},
{"s":12,"c":455,"y":0.014},{"s":12,"c":460,"y":0.018},{"s":12,"c":465,"y":0.015},{"s":12,"c":470,"y":0.021},{"s":12,"c":475,"y":0.026},{"s":12,"c":480,"y":0.023},{"s":12,"c":485,"y":0.023},{"s":12,"c":490,"y":0.033},{"s":12,"c":495,"y":0.032},{"s":12,"c":500,"y":0.041},{"s":12,"c":505,"y":0.039},{"s":12,"c":510,"y":0.049},{"s":12,"c":515,"y":0.049},{"s":12,"c":520,"y":0.066},{"s":12,"c":525,"y":0.072},{"s":12,"c":530,"y":0.076},{"s":12,"c":535,"y":0.102},{"s":12,"c":540,"y":0.105},{"s":12,"c":545,"y":0.135},{"s":12,"c":550,"y":0.145},{"s":12,"c":555,"y":0.191},{"s":12,"c":560,"y":0.232},{"s":12,"c":565,"y":0.236},{"s":12,"c":570,"y":0.241},{"s":12,"c":575,"y":0.28},{"s":12,"c":580,"y":0.264},{"s":12,"c":585,"y":0.272},{"s":12,"c":590,"y":0.23},{"s":12,"c":595,"y":0.22},{"s":12,"c":600,"y":0.182},{"s":12,"c":605,"y":0.177},{"s":12,"c":610,"y":0.128},{"s":12,"c":615,"y":0.084},{"s":12,"c":620,"y":0.064},{"s":12,"c":625,"y":0.036},{"s":12,"c":630,"y":0.027},{"s":12,"c":635,"y":0.013},{"s":12,"c":640,"y":0.011},{"s":12,"c":645,"y":0.01},{"s":12,"c":650,"y":0.004},{"s":12,"c":655,"y":0.001},{"s":12,"c":660,"y":0.003},{"s":12,"c":665,"y":0.001},{"s":12,"c":670,"y":0.002},{"s":12,"c":680,"y":0.001},{"s":12,"c":690,"y":0.001},{"s":12,"c":700,"y":0},{"s":12,"c":720,"y":0}
]},
"layer": [
 {"data": {"name": "spec"},
  "mark": {"type": "line", "clip": true, "strokeWidth": 1.2, "opacity": 0.9},
  "encoding": {
   "x": {"field": "c", "type": "quantitative", "title": "Channel",
     "scale": {"domain": [120, 800], "nice": false, "zero": false},
     "axis": {"orient": "bottom", "values": [200,300,400,500,600,700,800],
       "labelExpr": "datum.value % 200 == 0 ? datum.label : ''",
       "tickSize": {"condition": {"test": "datum.value % 200 == 0", "value": -7}, "value": -4},
       "labelPadding": 16, "titlePadding": 20}},
   "y": {"field": "y", "type": "quantitative", "title": "cps",
     "scale": {"domain": [0, 0.5], "nice": false, "zero": true},
     "axis": {"orient": "left", "values": [0,0.05,0.1,0.15,0.2,0.25,0.3,0.35,0.4,0.45,0.5],
       "labelExpr": "round(datum.value*100) % 10 == 0 ? format(datum.value, '.1f') : ''",
       "tickSize": {"condition": {"test": "round(datum.value*100) % 10 == 0", "value": -7}, "value": -4},
       "labelPadding": 18, "titlePadding": 31}},
   "color": {"field": "s", "type": "nominal",
     "scale": {"domain": [1,2,3,4,5,6,7,8,9,10,11,12],
       "range": ["#000000","#ff0000","#0000ff","#00b0b0","#ff00ff","#a0a000","#3333cc","#a03c3c","#ff5c8a","#008000","#000080","#ff4500"]},
     "legend": {"orient": "none", "legendX": 404, "legendY": 14, "title": null,
       "labelExpr": "'Exp#' + datum.label", "symbolType": "stroke", "symbolSize": 1764,
       "symbolStrokeWidth": 1, "symbolOpacity": 0.5, "clipHeight": 23, "rowPadding": 0,
       "labelFontSize": 18, "labelColor": "#222222", "labelOffset": 6, "padding": 2,
       "strokeColor": "#999999", "fillColor": "white"}}
  }},
 {"data": {"values": [{"c": 176, "y": 0.165, "t": "Co-60 signal"}, {"c": 364.6, "y": 0.249, "t": "Po-210 signal"}]},
  "mark": {"type": "text", "align": "left", "baseline": "middle", "fontSize": 22, "color": "black"},
  "encoding": {
   "x": {"field": "c", "type": "quantitative", "axis": null},
   "y": {"field": "y", "type": "quantitative", "axis": null},
   "text": {"field": "t"}}},
 {"data": {"values": [{"c": 120, "y": 0}]},
  "mark": {"type": "point", "opacity": 0},
  "encoding": {
   "x": {"field": "c", "type": "quantitative", "title": null,
     "axis": {"orient": "top", "values": [200,300,400,500,600,700,800], "labels": false,
       "tickSize": {"condition": {"test": "datum.value % 200 == 0", "value": -7}, "value": -4}}},
   "y": {"field": "y", "type": "quantitative", "title": null,
     "axis": {"orient": "right", "values": [0,0.05,0.1,0.15,0.2,0.25,0.3,0.35,0.4,0.45,0.5], "labels": false,
       "tickSize": {"condition": {"test": "round(datum.value*100) % 10 == 0", "value": -7}, "value": -4}}}}}
],
"resolve": {"axis": {"x": "independent", "y": "independent"}}
}
